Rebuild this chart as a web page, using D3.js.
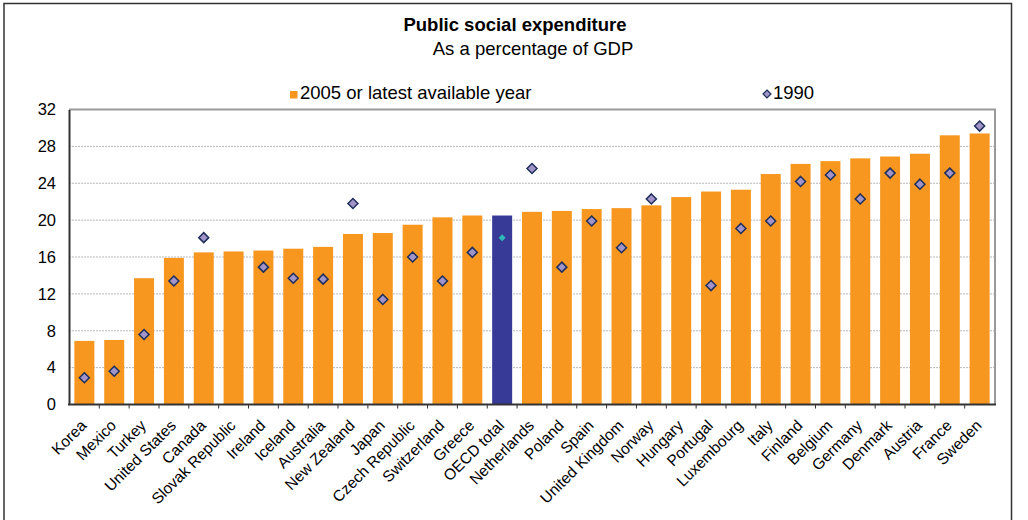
<!DOCTYPE html>
<html>
<head>
<meta charset="utf-8">
<script src="https://cdn.jsdelivr.net/npm/d3@7"></script>
<style>
  body { margin: 0; background: #fff; }
  svg { display: block; font-family: "Liberation Sans", Arial, sans-serif; }
</style>
</head>
<body>
<div id="chart"></div>
<script>
// Data
const countries = ["Korea", "Mexico", "Turkey", "United States", "Canada", "Slovak Republic", "Ireland",
  "Iceland", "Australia", "New Zealand", "Japan", "Czech Republic", "Switzerland", "Greece", "OECD total",
  "Netherlands", "Poland", "Spain", "United Kingdom", "Norway", "Hungary", "Portugal", "Luxembourg",
  "Italy", "Finland", "Belgium", "Germany", "Denmark", "Austria", "France", "Sweden"];
const latest = [6.9, 7.0, 13.7, 15.9, 16.5, 16.6, 16.7, 16.9, 17.1, 18.5, 18.6, 19.5, 20.3, 20.5, 20.5,
  20.9, 21.0, 21.2, 21.3, 21.6, 22.5, 23.1, 23.3, 25.0, 26.1, 26.4, 26.7, 26.9, 27.2, 29.2, 29.4];
const y1990 = [2.9, 3.6, 7.6, 13.4, 18.1, null, 14.9, 13.7, 13.6, 21.8, 11.4, 16.0, 13.4, 16.5, 18.1,
  25.6, 14.9, 19.9, 17.0, 22.3, null, 12.9, 19.1, 19.9, 24.2, 24.9, 22.3, 25.1, 23.9, 25.1, 30.2];
const yTicks = [0, 4, 8, 12, 16, 20, 24, 28, 32];

const W = 1028, H = 520;
const margin = { left: 69, right: 33, top: 109.5, bottom: 115.5 };
const plotW = W - margin.left - margin.right;
const plotH = H - margin.top - margin.bottom;

const svg = d3.select("#chart").append("svg")
  .attr("width", W).attr("height", H);

// outer frame
svg.append("path")
  .attr("d", `M4,${H} V3.5 H1011.5 V${H}`)
  .attr("fill", "none").attr("stroke", "#333").attr("stroke-width", 1.5);

// titles
svg.append("text").attr("x", 515).attr("y", 31).attr("text-anchor", "middle")
  .attr("font-size", 18.5).attr("font-weight", "bold").attr("fill", "#000")
  .text("Public social expenditure");
svg.append("text").attr("x", 533).attr("y", 55).attr("text-anchor", "middle")
  .attr("font-size", 18.5).attr("fill", "#000")
  .text("As a percentage of GDP");

// legend
const legend = svg.append("g");
legend.append("rect").attr("x", 290).attr("y", 91).attr("width", 7.5).attr("height", 7.5).attr("fill", "#F7971F");
legend.append("text").attr("x", 300).attr("y", 99).attr("font-size", 18.5).text("2005 or latest available year");
legend.append("path").attr("transform", "translate(767,94)")
  .attr("d", "M0,-4 L4,0 L0,4 L-4,0 Z")
  .attr("fill", "#A094C8").attr("stroke", "#1F2E5A").attr("stroke-width", 1.2);
legend.append("text").attr("x", 773).attr("y", 99).attr("font-size", 18.5).text("1990");

const g = svg.append("g").attr("transform", `translate(${margin.left},${margin.top})`);

const x = d3.scaleBand().domain(countries).range([0, plotW]).paddingInner(0.33).paddingOuter(0.18);
const y = d3.scaleLinear().domain([0, 32]).range([plotH, 0]);

// gridlines
g.append("g").selectAll("line")
  .data(yTicks.filter(t => t > 0 && t < 32))
  .join("line")
  .attr("x1", 0).attr("x2", plotW)
  .attr("y1", d => y(d)).attr("y2", d => y(d))
  .attr("stroke", "#b8b8b8").attr("stroke-width", 1).attr("stroke-dasharray", "2,1");

// top & right frame of plot area
g.append("path")
  .attr("d", `M0,${y(32)} H${plotW} V${plotH}`)
  .attr("fill", "none").attr("stroke", "#9a9a9a").attr("stroke-width", 2);

// bars
g.append("g").selectAll("rect")
  .data(countries.map((c, i) => ({ c, v: latest[i] })))
  .join("rect")
  .attr("x", d => x(d.c))
  .attr("width", x.bandwidth())
  .attr("y", d => y(d.v))
  .attr("height", d => plotH - y(d.v))
  .attr("fill", d => d.c === "OECD total" ? "#373A96" : "#F7971F");

// diamonds
g.append("g").selectAll("path")
  .data(countries.map((c, i) => ({ c, v: y1990[i] })).filter(d => d.v != null))
  .join("path")
  .attr("transform", d => `translate(${x(d.c) + x.bandwidth() / 2},${y(d.v)})`)
  .attr("d", d => d.c === "OECD total" ? "M0,-3.5 L3.5,0 L0,3.5 L-3.5,0 Z" : "M0,-5 L5,0 L0,5 L-5,0 Z")
  .attr("fill", d => d.c === "OECD total" ? "#2EB8B8" : "#A094C8")
  .attr("stroke", d => d.c === "OECD total" ? "none" : "#1F2E5A")
  .attr("stroke-width", 1.5);

// y axis
const yAxis = g.append("g").call(d3.axisLeft(y).tickValues(yTicks).tickSize(0).tickPadding(13));
yAxis.select(".domain").attr("stroke", "#333").attr("stroke-width", 2);
yAxis.selectAll("text").attr("font-size", 16.5).attr("fill", "#000")
  .attr("font-family", "Liberation Sans, Arial, sans-serif");

// x axis ticks at band boundaries
const step = x.step();
const bounds = d3.range(1, countries.length).map(i => x(countries[i]) - (step - x.bandwidth()) / 2);
g.append("g").selectAll("line").data(bounds).join("line")
  .attr("x1", d => d).attr("x2", d => d)
  .attr("y1", plotH).attr("y2", plotH + 4)
  .attr("stroke", "#333").attr("stroke-width", 1);
g.append("line").attr("x1", -1).attr("x2", plotW + 1).attr("y1", plotH).attr("y2", plotH)
  .attr("stroke", "#333").attr("stroke-width", 2);

// x labels
g.append("g").selectAll("text").data(countries).join("text")
  .attr("transform", d => `translate(${x(d) + x.bandwidth() / 2 + 3},${plotH + 22}) rotate(-45)`)
  .attr("text-anchor", "end")
  .attr("font-size", 15.5)
  .attr("fill", "#000")
  .text(d => d);
</script>
</body>
</html>
